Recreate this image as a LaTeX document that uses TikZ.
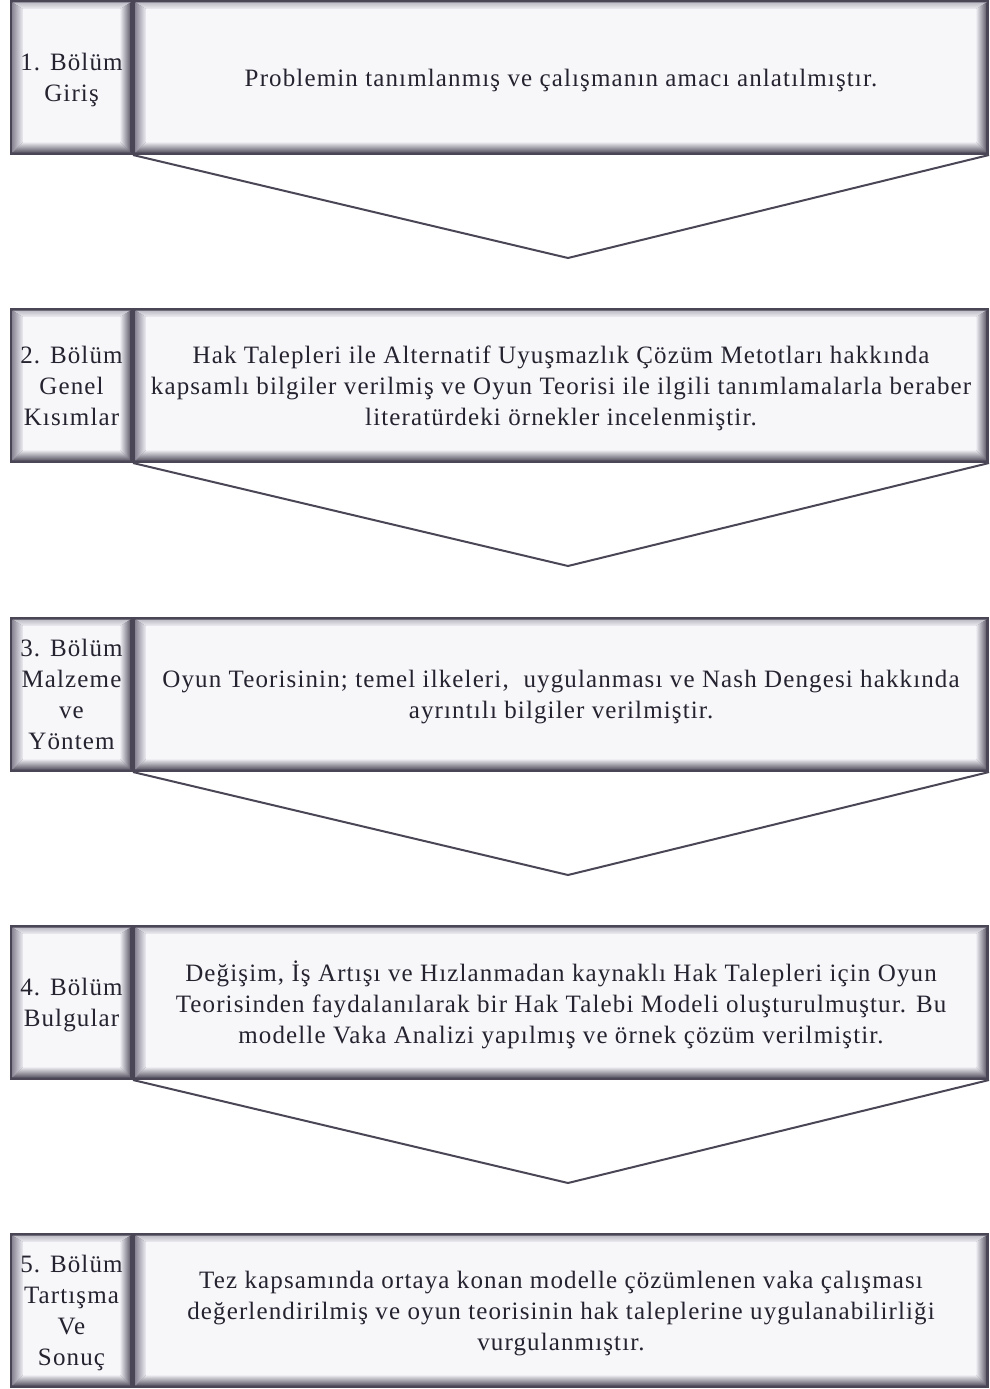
\documentclass[tikz,border=0pt]{standalone}
\usepackage{fontspec}
\setmainfont[LetterSpace=4.5]{Liberation Serif}
\usetikzlibrary{calc}

\definecolor{frame}{HTML}{4A4656}
\definecolor{face}{HTML}{F7F7FA}
\definecolor{txt}{HTML}{25232F}
\definecolor{bevtop}{HTML}{BEBCC6}
\definecolor{bevleft}{HTML}{8E8A98}
\definecolor{bevright}{HTML}{605C6A}
\definecolor{bevbot}{HTML}{5A5664}
\definecolor{bevin}{HTML}{EEEEF3}

% bevelled panel painted inside a node's outline
\newcommand\bevelpaint{%
  \coordinate (o1) at ([shift={(2.5pt,2.5pt)}]path picture bounding box.south west);
  \coordinate (o2) at ([shift={(-2.5pt,2.5pt)}]path picture bounding box.south east);
  \coordinate (o3) at ([shift={(-2.5pt,-2.5pt)}]path picture bounding box.north east);
  \coordinate (o4) at ([shift={(2.5pt,-2.5pt)}]path picture bounding box.north west);
  \coordinate (i1) at ([shift={(13pt,13pt)}]path picture bounding box.south west);
  \coordinate (i2) at ([shift={(-13pt,13pt)}]path picture bounding box.south east);
  \coordinate (i3) at ([shift={(-13pt,-9pt)}]path picture bounding box.north east);
  \coordinate (i4) at ([shift={(13pt,-9pt)}]path picture bounding box.north west);
  \fill[frame] (path picture bounding box.south west) rectangle (path picture bounding box.north east);
  \shade[top color=bevtop, bottom color=bevin] (o4) -- (o3) -- (i3) -- (i4) -- cycle;
  \shade[bottom color=bevbot, top color=bevin] (o1) -- (o2) -- (i2) -- (i1) -- cycle;
  \shade[left color=bevleft, right color=bevin] (o1) -- (i1) -- (i4) -- (o4) -- cycle;
  \shade[right color=bevright, left color=bevin] (o2) -- (o3) -- (i3) -- (i2) -- cycle;
  \fill[face] (i1) rectangle (i3);
}

\tikzset{
  bevelbox/.style={rectangle, inner sep=0pt, outer sep=0pt, fill=frame,
    path picture={\bevelpaint}, anchor=north west, align=center,
    text=txt, font=\fontsize{25}{31}\selectfont, minimum height=155pt,
    text depth=0pt},
  tagbox/.style={bevelbox, minimum width=123pt},
  mainbox/.style={bevelbox, minimum width=856pt},
  chevron/.style={draw=frame, line width=2pt, line join=miter}
}

\begin{document}
\begin{tikzpicture}[x=1pt, y=-1pt]
\useasboundingbox[fill=white] (0,0) rectangle (989,1389);

% row 1
\node[tagbox]  (t1) at (10,0)  {1. Bölüm\\Giriş};
\node[mainbox] (m1) at (133,0) {Problemin tanımlanmış ve çalışmanın amacı anlatılmıştır.};
\coordinate (v1) at (568,258);
\draw[chevron] (m1.south west) -- (v1) -- (m1.south east);

% row 2
\node[tagbox]  (t2) at (10,308)  {2. Bölüm\\Genel\\Kısımlar};
\node[mainbox] (m2) at (133,308) {Hak Talepleri ile Alternatif Uyuşmazlık Çözüm Metotları hakkında\\kapsamlı bilgiler verilmiş ve Oyun Teorisi ile ilgili tanımlamalarla beraber\\literatürdeki örnekler incelenmiştir.};
\coordinate (v2) at (568,566);
\draw[chevron] (m2.south west) -- (v2) -- (m2.south east);

% row 3
\node[tagbox]  (t3) at (10,617)  {3. Bölüm\\Malzeme\\ve\\Yöntem};
\node[mainbox] (m3) at (133,617) {Oyun Teorisinin; temel ilkeleri,\ \ uygulanması ve Nash Dengesi hakkında\\ayrıntılı bilgiler verilmiştir.};
\coordinate (v3) at (568,875);
\draw[chevron] (m3.south west) -- (v3) -- (m3.south east);

% row 4
\node[tagbox]  (t4) at (10,925)  {4. Bölüm\\Bulgular};
\node[mainbox] (m4) at (133,925) {Değişim, İş Artışı ve Hızlanmadan kaynaklı Hak Talepleri için Oyun\\Teorisinden faydalanılarak bir Hak Talebi Modeli oluşturulmuştur. Bu\\modelle Vaka Analizi yapılmış ve örnek çözüm verilmiştir.};
\coordinate (v4) at (568,1183);
\draw[chevron] (m4.south west) -- (v4) -- (m4.south east);

% row 5
\node[tagbox]  (t5) at (10,1233)  {5. Bölüm\\Tartışma\\Ve\\Sonuç};
\node[mainbox] (m5) at (133,1233) {Tez kapsamında ortaya konan modelle çözümlenen vaka çalışması\\değerlendirilmiş ve oyun teorisinin hak taleplerine uygulanabilirliği\\vurgulanmıştır.};
\end{tikzpicture}
\end{document}
